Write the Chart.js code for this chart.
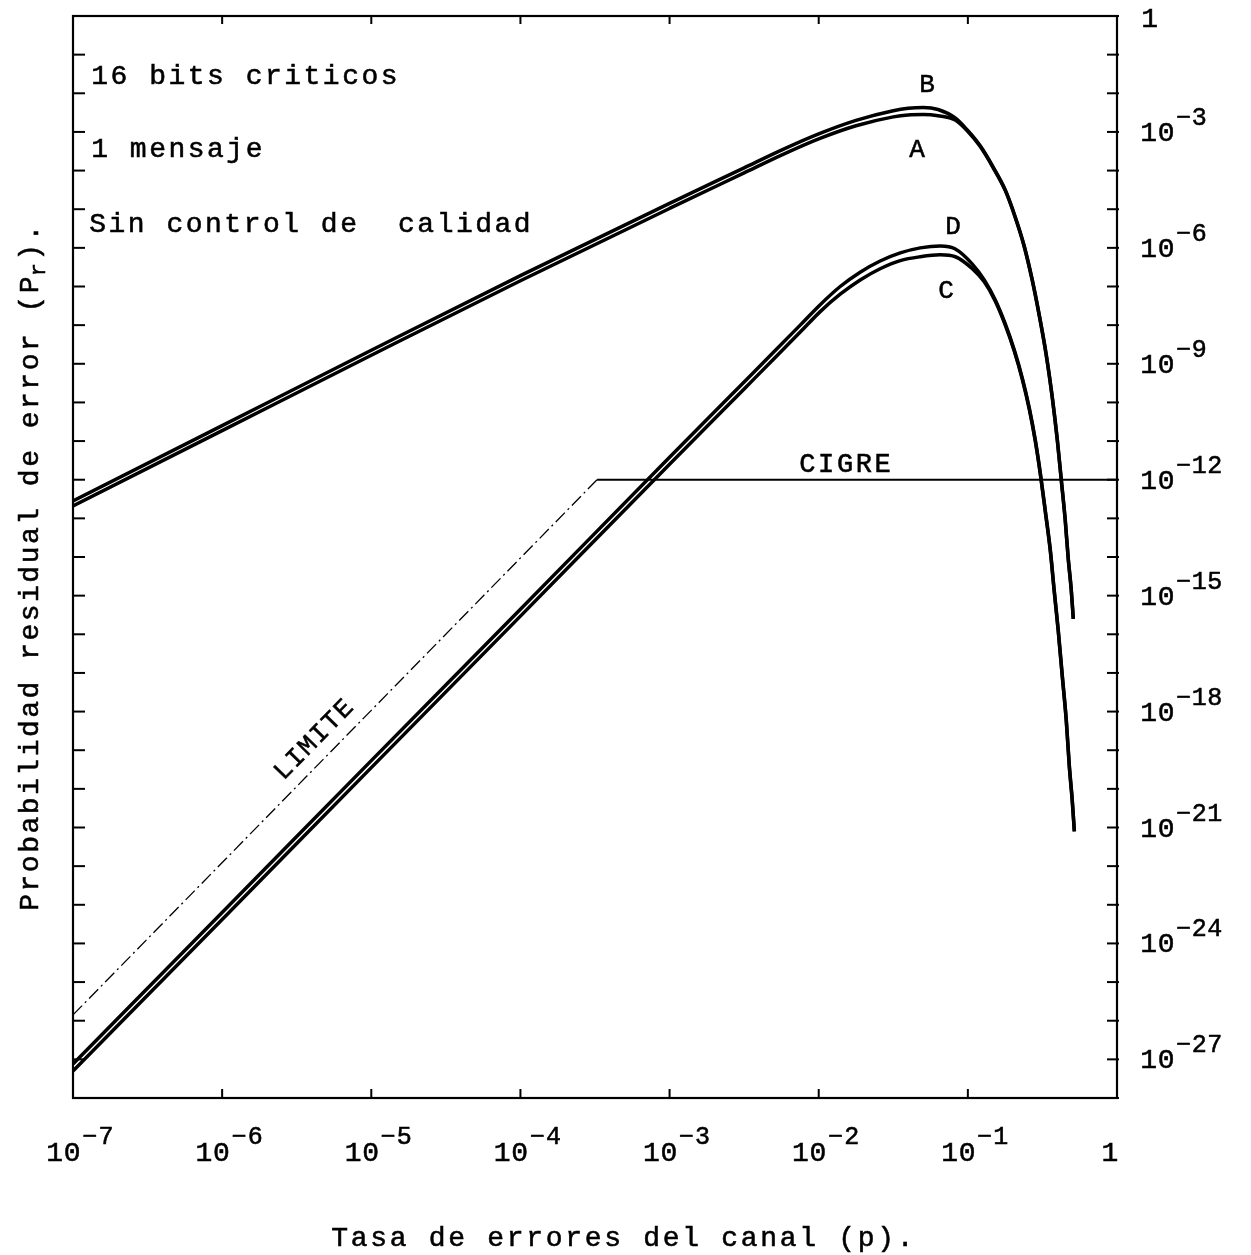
<!DOCTYPE html>
<html>
<head>
<meta charset="utf-8">
<script src="https://cdn.jsdelivr.net/npm/chart.js@4.4.1/dist/chart.umd.min.js"></script>
<style>
  html, body { margin: 0; padding: 0; background: #ffffff; }
  canvas { display: block; }
</style>
</head>
<body>
<canvas id="chart" width="1251" height="1255"></canvas>
<script>
// Channel error rate p, as powers of ten, for curves A/B
const pExpAB = [-7, -6, -5, -4, -3, -2.5, -2.25, -2, -1.75, -1.5, -1.4, -1.3, -1.2, -1.085, -1.004,
                -0.917, -0.830, -0.749, -0.682, -0.622, -0.568, -0.521, -0.474, -0.434, -0.400,
                -0.374, -0.347, -0.327, -0.307, -0.293];
// Residual error probability Pr, as powers of ten
const prExpB = [-12.55, -10.6, -8.65, -6.72, -4.85, -3.93, -3.47, -3.05, -2.7, -2.45, -2.39, -2.37, -2.42, -2.64, -2.95,
                -3.36, -3.91, -4.50, -5.20, -5.95, -6.83, -7.74, -8.77, -9.86, -10.97,
                -11.98, -13.04, -14.03, -14.83, -15.6];
const prExpA = [-12.68, -10.73, -8.78, -6.85, -4.98, -4.06, -3.6, -3.18, -2.84, -2.61, -2.56, -2.55, -2.58, -2.69, -2.97,
                -3.38, -3.93, -4.52, -5.22, -5.97, -6.85, -7.76, -8.79, -9.88, -10.99,
                -12.0, -13.06, -14.05, -14.85, -15.6];

// Curves C/D
const pExpCD = [-7, -6, -5, -4, -3, -2.5, -2.3, -2.124, -1.99, -1.856, -1.722, -1.588, -1.453, -1.319, -1.185, -1.084,
                -0.970, -0.890, -0.816, -0.749, -0.689, -0.635, -0.588, -0.548, -0.514, -0.481,
                -0.447, -0.421, -0.394, -0.367, -0.340, -0.320, -0.300, -0.286];
const prExpD = [-27.12, -23.2, -19.27, -15.35, -11.42, -9.47, -8.69, -8.0, -7.47, -7.0, -6.63, -6.34, -6.13, -6.0, -5.95, -6.03,
                -6.42, -6.83, -7.35, -7.97, -8.64, -9.37, -10.15, -10.97, -11.83, -12.79,
                -13.82, -14.86, -15.89, -17.06, -18.22, -19.38, -20.29, -21.1];
const prExpC = [-27.3, -23.38, -19.45, -15.53, -11.6, -9.65, -8.87, -8.18, -7.65, -7.2, -6.83, -6.54, -6.33, -6.23, -6.18, -6.23,
                -6.54, -6.88, -7.38, -8.0, -8.67, -9.4, -10.18, -11.0, -11.86, -12.82,
                -13.85, -14.89, -15.92, -17.09, -18.25, -19.41, -20.32, -21.1];

// Limit line (dash-dot) and CIGRE requirement (solid)
const pExpLimite = [-7, -3.486];
const prExpLimite = [-25.85, -12];
const pExpCigre = [-3.486, 0];
const prExpCigre = [-12, -12];

// Axis tick labels (powers of ten)
const xLabelExp = [-7, -6, -5, -4, -3, -2, -1, 0];
const yLabelExp = [0, -3, -6, -9, -12, -15, -18, -21, -24, -27];

const FONT = '"Liberation Mono", "DejaVu Sans Mono", monospace';

const toPoints = (xs, ys) => xs.map((e, i) => ({ x: Math.pow(10, e), y: Math.pow(10, ys[i]) }));

const curve = (label, data) => ({
  label, data,
  borderColor: '#000', borderWidth: 3.5,
  pointRadius: 0, fill: false,
  cubicInterpolationMode: 'monotone'
});

// Fixed-pitch typewriter-like text, one character per cell
function typed(ctx, text, x, y, adv, align) {
  const start = align === 'center' ? x - (text.length * adv) / 2 : x;
  const saved = ctx.textAlign;
  ctx.textAlign = 'left';
  ctx.lineWidth = 0.55;
  for (let i = 0; i < text.length; i++) {
    const w = ctx.measureText(text[i]).width;
    const cx = start + i * adv + (adv - w) / 2;
    ctx.fillText(text[i], cx, y);
    ctx.strokeText(text[i], cx, y);
  }
  ctx.textAlign = saved;
  return start + text.length * adv;
}

const decor = {
  id: 'decor',
  afterDraw(chart) {
    const { ctx, chartArea: a, scales: { x, y } } = chart;
    ctx.save();
    ctx.strokeStyle = '#000';
    ctx.fillStyle = '#000';

    // frame
    ctx.lineWidth = 2.2;
    ctx.strokeRect(a.left, a.top, a.right - a.left, a.bottom - a.top);

    // inward decade ticks
    const seg = (x1, y1, x2, y2) => { ctx.beginPath(); ctx.moveTo(x1, y1); ctx.lineTo(x2, y2); ctx.stroke(); };
    ctx.lineWidth = 2;
    for (let e = -7; e <= 0; e++) {
      const px = x.getPixelForValue(Math.pow(10, e));
      seg(px, a.bottom, px, a.bottom - 9);
      seg(px, a.top, px, a.top + 8);
    }
    for (let e = 0; e >= -28; e--) {
      const py = y.getPixelForValue(Math.pow(10, e));
      seg(a.left, py, a.left + 12, py);
      seg(a.right - 10, py, a.right + 2, py);
    }

    ctx.textBaseline = 'alphabetic';

    // x tick labels
    for (const e of xLabelExp) {
      const px = x.getPixelForValue(Math.pow(10, e));
      ctx.font = '28px ' + FONT;
      if (e === 0) {
        typed(ctx, '1', px - 7, 1161, 18, 'center');
      } else {
        const end = typed(ctx, '10', px - 27, 1161, 17.5, 'left');
        ctx.font = '25px ' + FONT;
        typed(ctx, '\u2212' + (-e), end + 1, 1144, 16, 'left');
      }
    }

    // right-hand y tick labels
    for (const e of yLabelExp) {
      const py = y.getPixelForValue(Math.pow(10, e));
      ctx.font = '28px ' + FONT;
      if (e === 0) {
        typed(ctx, '1', 1141, py + 11, 17.5, 'left');
      } else {
        const end = typed(ctx, '10', 1140, py + 9, 17.5, 'left');
        ctx.font = '25px ' + FONT;
        typed(ctx, '\u2212' + (-e), end + 1, py - 7, 15.5, 'left');
      }
    }

    // axis titles
    ctx.font = '28px ' + FONT;
    typed(ctx, 'Tasa de errores del canal (p).', 330, 1246, 19.5, 'left');

    ctx.save();
    ctx.translate(38, 912);
    ctx.rotate(-Math.PI / 2);
    ctx.font = '28px ' + FONT;
    let u = typed(ctx, 'Probabilidad residual de error (P', 0, 0, 19.3, 'left');
    ctx.font = '22px ' + FONT;
    u = typed(ctx, 'r', u - 2, 7, 15, 'left');
    ctx.font = '28px ' + FONT;
    typed(ctx, ').', u, 0, 19.3, 'left');
    ctx.restore();

    // notes in the upper left
    ctx.font = '28px ' + FONT;
    typed(ctx, '16 bits criticos', 90, 84, 19.3, 'left');
    typed(ctx, '1 mensaje', 90, 157, 19.3, 'left');
    typed(ctx, 'Sin control de  calidad', 88, 232, 19.3, 'left');

    // curve letters
    ctx.font = '26px ' + FONT;
    typed(ctx, 'B', 927, 92, 18, 'center');
    typed(ctx, 'A', 917, 157, 18, 'center');
    typed(ctx, 'D', 953, 234, 18, 'center');
    typed(ctx, 'C', 946, 298, 18, 'center');

    ctx.font = '27px ' + FONT;
    typed(ctx, 'CIGRE', 845, 472, 18.8, 'center');

    // LIMITE along the dash-dot line
    const x1 = x.getPixelForValue(Math.pow(10, pExpLimite[0]));
    const y1 = y.getPixelForValue(Math.pow(10, prExpLimite[0]));
    const x2 = x.getPixelForValue(Math.pow(10, pExpLimite[1]));
    const y2 = y.getPixelForValue(Math.pow(10, prExpLimite[1]));
    const ang = Math.atan2(y2 - y1, x2 - x1);
    ctx.save();
    ctx.translate(314, 740);
    ctx.rotate(ang);
    ctx.font = '26px ' + FONT;
    ctx.textBaseline = 'middle';
    typed(ctx, 'LIMITE', 0, 0, 17.2, 'center');
    ctx.restore();

    ctx.restore();
  }
};

new Chart(document.getElementById('chart').getContext('2d'), {
  type: 'line',
  data: {
    datasets: [
      curve('B', toPoints(pExpAB, prExpB)),
      curve('A', toPoints(pExpAB, prExpA)),
      curve('D', toPoints(pExpCD, prExpD)),
      curve('C', toPoints(pExpCD, prExpC)),
      {
        label: 'LIMITE', data: toPoints(pExpLimite, prExpLimite),
        borderColor: '#000', borderWidth: 1.3, borderDash: [13, 4, 2, 4],
        pointRadius: 0, fill: false, tension: 0
      },
      {
        label: 'CIGRE', data: toPoints(pExpCigre, prExpCigre),
        borderColor: '#000', borderWidth: 2,
        pointRadius: 0, fill: false, tension: 0
      }
    ]
  },
  options: {
    responsive: false,
    animation: false,
    devicePixelRatio: 1,
    layout: { padding: { left: 73, right: 134, top: 16, bottom: 157 } },
    plugins: { legend: { display: false }, tooltip: { enabled: false } },
    scales: {
      x: { type: 'logarithmic', min: 1e-7, max: 1, display: false },
      y: { type: 'logarithmic', min: 1e-28, max: 1, display: false }
    }
  },
  plugins: [decor]
});
</script>
</body>
</html>
